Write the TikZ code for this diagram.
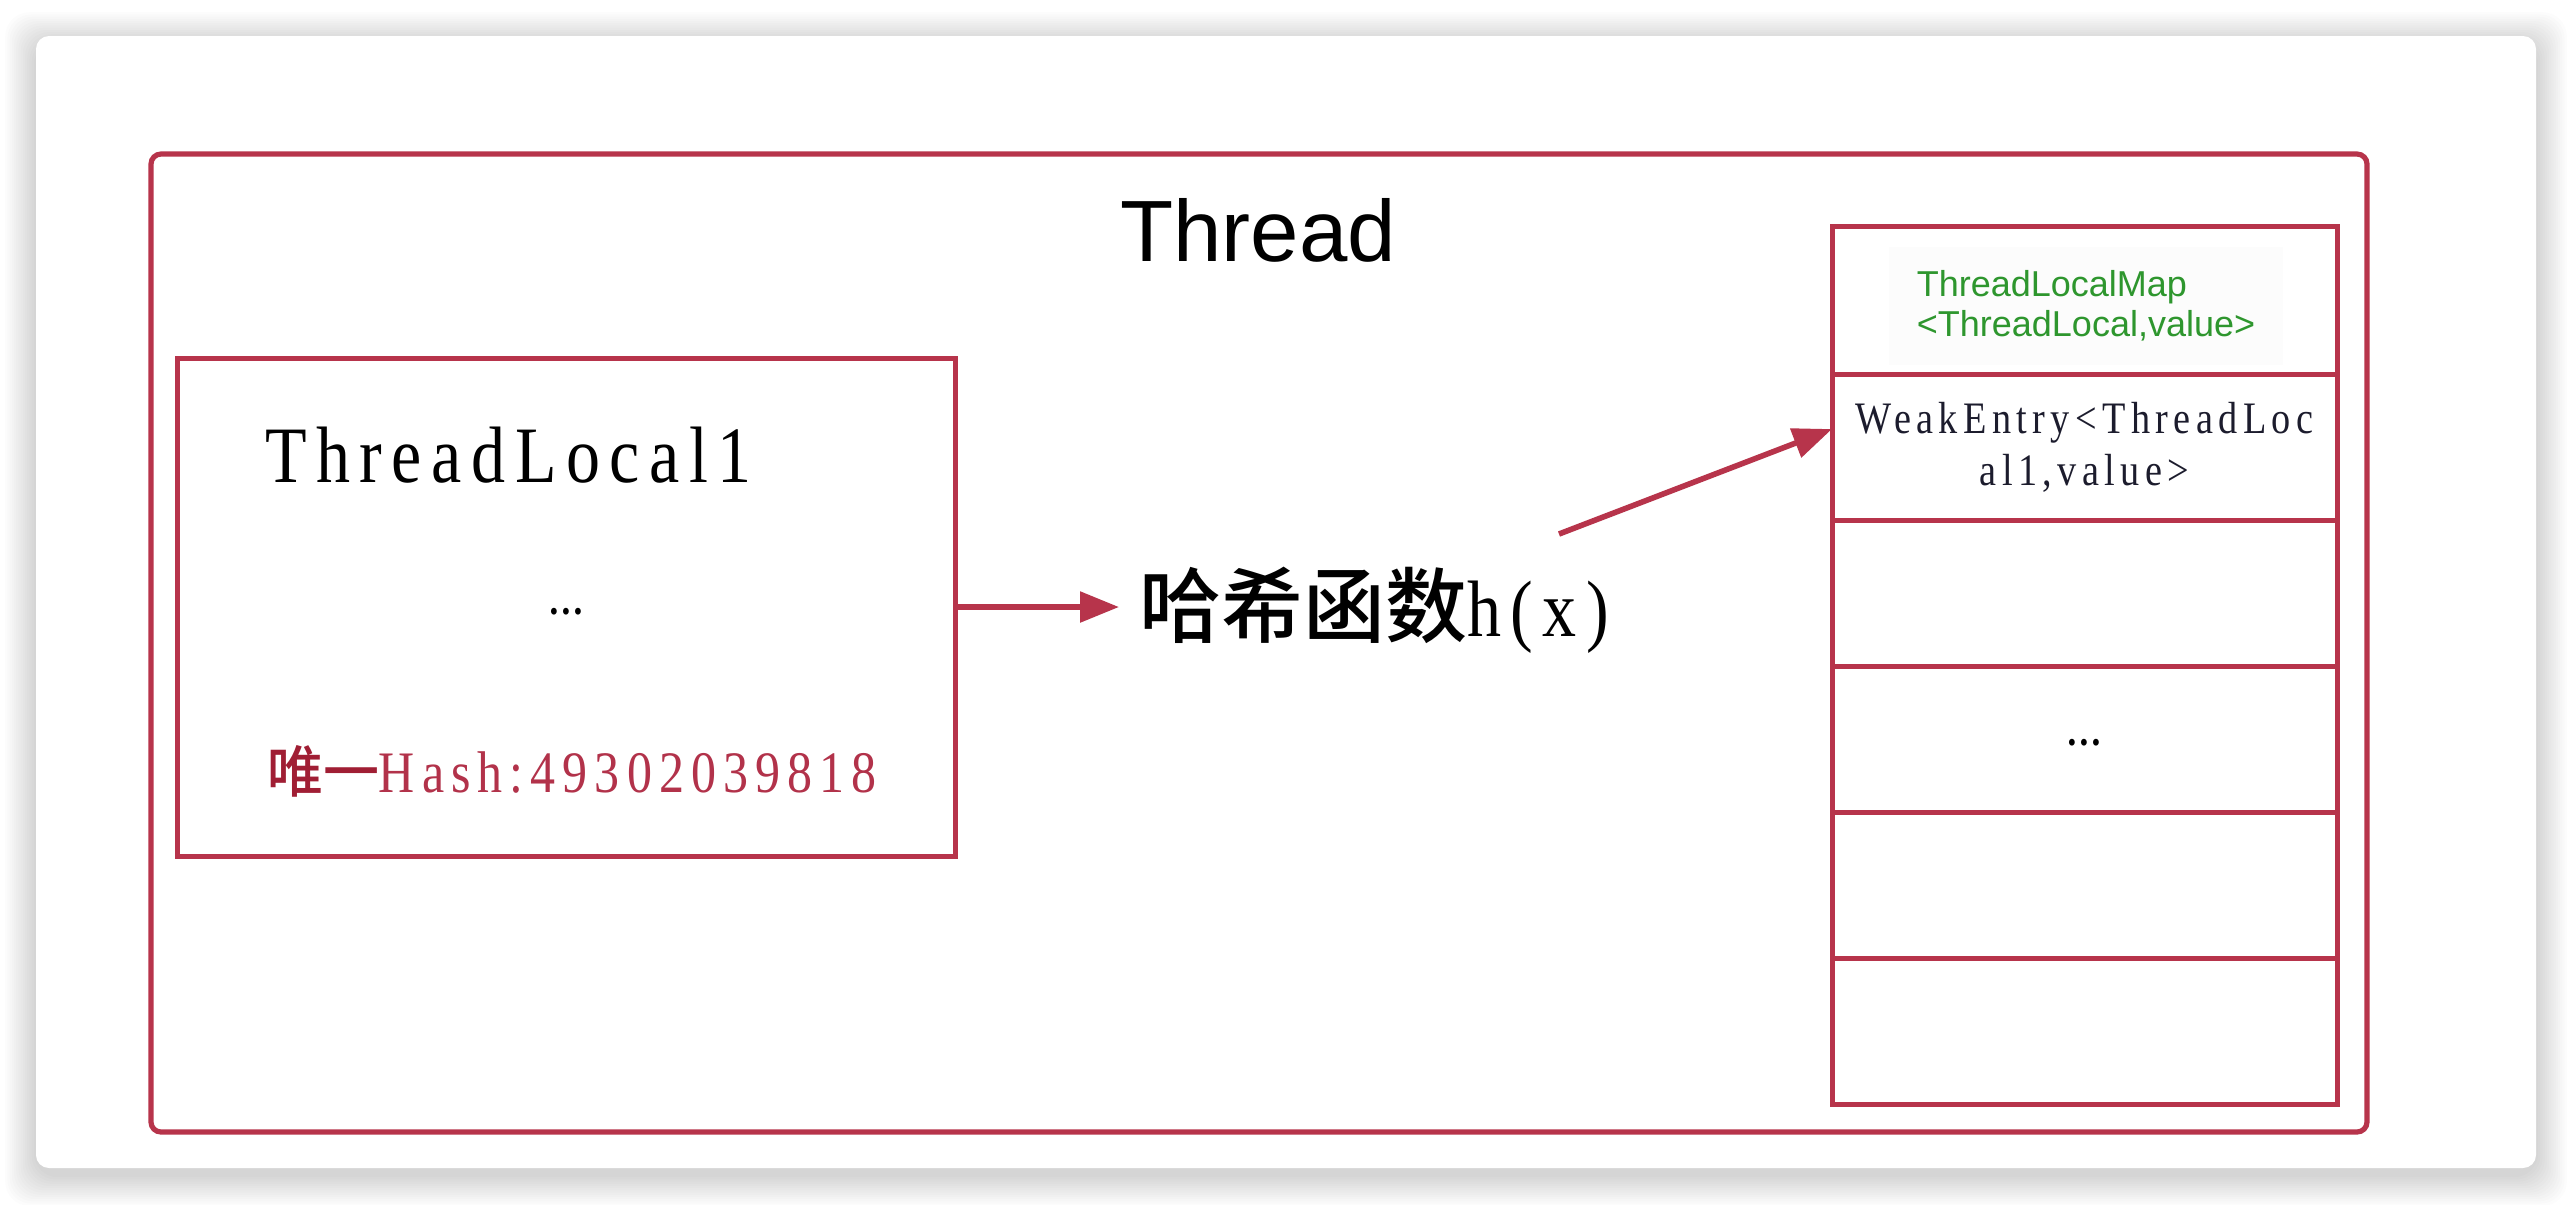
\documentclass[tikz,border=0pt]{standalone}
\usepackage{fontspec}
\setmainfont{Liberation Serif}
\newfontfamily\sansf{Liberation Sans}
\newfontfamily\serifw[FakeStretch=0.85,LetterSpace=12]{Liberation Serif}
\newfontfamily\cjk{Noto Sans CJK SC}
\newfontfamily\cjkm{Noto Sans CJK SC Medium}
\usetikzlibrary{arrows.meta,calc}
\definecolor{crim}{RGB}{183,52,75}
\definecolor{hashc}{RGB}{178,50,74}
\definecolor{weic}{RGB}{160,30,52}
\definecolor{gtxt}{RGB}{46,150,46}
\definecolor{entc}{RGB}{28,28,45}
\tikzset{
  box/.style={draw=crim, line width=1.25pt, inner sep=0pt, outer sep=0pt, anchor=north west},
  cell/.style={box, minimum width=126.25pt, minimum height=36.5pt},
  conn/.style={draw=crim, line width=1.4pt, -{Triangle[length=9.75pt,width=7.5pt]}, shorten <=0pt},
  plain/.style={inner sep=0pt, outer sep=0pt}
}
\begin{document}
\begin{tikzpicture}[x=0.25pt,y=-0.25pt]
\useasboundingbox (0,0) rectangle (2572,1204);
\fill[white] (0,0) rectangle (2572,1204);
% card shadow
\foreach \i in {1,...,14}{
  \fill[black, opacity=0.012, rounded corners=6pt] ({36-\i*2.2},{36-\i*2.2+7}) rectangle ({2536+\i*2.2},{1168+\i*2.2+7});
}
\fill[white, rounded corners=3.25pt] (36,36) rectangle (2536,1168);
% thread box
\draw[crim, line width=1.3pt, rounded corners=2.5pt] (151,154) rectangle (2367,1132);
\node[plain, anchor=base, font=\sansf\fontsize{21.75pt}{26pt}\selectfont] (title) at (1258,261) {Thread};
% ThreadLocal box
\node[box, minimum width=194.5pt, minimum height=124.5pt] (tl) at (177,358) {};
\node[plain, anchor=base west, font=\serifw\fontsize{20pt}{24pt}\selectfont] (tlname) at (265,482) {ThreadLocal1};
\node[plain, font=\serifw\bfseries\fontsize{10.5pt}{12pt}\selectfont] (tldots) at (566,612) {\ldots};
\node[plain, anchor=base west] (hash) at (267,792) {{\cjkm\color{weic}\fontsize{14pt}{17pt}\selectfont 唯一}{\serifw\color{hashc}\fontsize{14.7pt}{17pt}\selectfont Hash:49302039818}};
% hash function label
\node[plain, anchor=west, inner xsep=5pt] (hx) at (1119,610) {{\cjkm\fontsize{20.5pt}{24pt}\selectfont 哈希函数}{\serifw\fontsize{20pt}{24pt}\selectfont h(x)}};
\draw[conn] (tl.east) -- (tl.east -| hx.west);
% table
\node[cell, minimum height=37pt] (hdr) at (1832,226) {};
\node[cell] (row1) at (1832,374) {};
\node[cell] (row2) at (1832,520) {};
\node[cell] (row3) at (1832,666) {};
\node[cell] (row4) at (1832,812) {};
\node[cell] (row5) at (1832,958) {};
\node[plain, fill=black!1.2, inner xsep=7pt, inner ysep=6pt, align=left, text=gtxt, font=\sansf\fontsize{9pt}{10pt}\selectfont] (maptxt) at (2086,306) {ThreadLocalMap\\<ThreadLocal,value>};
\node[plain, align=center, text=entc, font=\serifw\fontsize{11.25pt}{13pt}\selectfont] (enttxt) at (row1.center) {WeakEntry<ThreadLoc\\al1,value>};
\node[plain, font=\serifw\bfseries\fontsize{10.5pt}{12pt}\selectfont] (rowdots) at ($(row3.center)+(0,4)$) {\ldots};
\coordinate (a2s) at (1559,534);
\draw[conn] (a2s) -- ($(row1.north west)!0.377!(row1.south west)$);
\end{tikzpicture}
\end{document}
